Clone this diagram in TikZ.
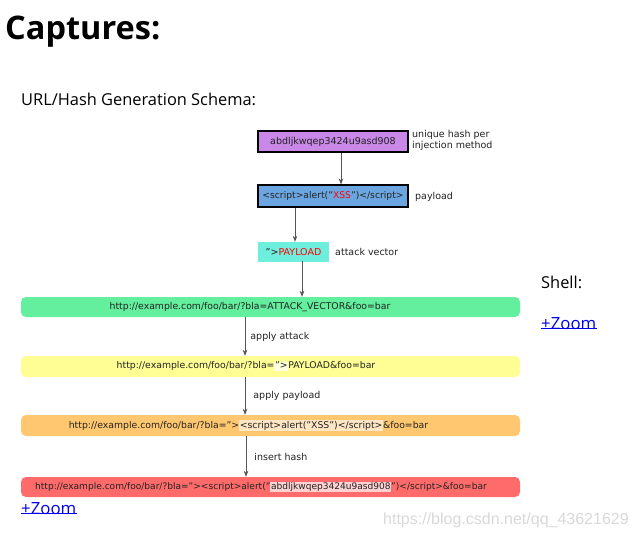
\documentclass[tikz,border=0pt]{standalone}
\usepackage{fontspec}
\setmainfont{DejaVu Sans}
\newfontfamily\uifont{Open Sans}
\newfontfamily\wmfont{Liberation Sans}
\usetikzlibrary{arrows.meta}
\definecolor{hashc}{HTML}{C987E8}
\definecolor{scriptc}{HTML}{6CA6E0}
\definecolor{vecc}{HTML}{6EEEDD}
\definecolor{greenc}{HTML}{63EF9E}
\definecolor{yellowc}{HTML}{FEFE95}
\definecolor{orangec}{HTML}{FFC76F}
\definecolor{redc}{HTML}{FF6B6B}
\definecolor{hly}{HTML}{FFFFDD}
\definecolor{hlo}{HTML}{FFE6C4}
\definecolor{hlr}{HTML}{FFD2D2}
\definecolor{linkc}{HTML}{0000EE}
\definecolor{txtc}{HTML}{222222}
\definecolor{arrc}{HTML}{555555}
\newcommand{\hlbox}[2]{{\setlength{\fboxsep}{0.6pt}\colorbox{#1}{\vphantom{Ag}#2}}}
\tikzset{
  boxed/.style={draw=black, line width=1.2pt, minimum width=150pt, inner sep=0pt, font=\fontsize{9.5}{10}\selectfont, text=txtc},
  bar/.style={rounded corners=5pt, minimum width=499pt, inner sep=0pt},
  bartext/.style={font=\fontsize{9.3}{10}\selectfont, text=txtc, inner sep=0pt},
  note/.style={font=\fontsize{9.5}{11}\selectfont, text=txtc, anchor=west, inner sep=0pt, align=left},
  arr/.style={draw=arrc, line width=0.8pt, -{Stealth[length=6pt,width=4.5pt,fill=black]}},
  ui/.style={font=\uifont\fontsize{16.4}{18}\selectfont, anchor=west, inner sep=0pt},
  link/.style={font=\uifont\fontsize{16.8}{18}\selectfont, text=linkc, anchor=west, inner sep=0pt}
}
\begin{document}
\begin{tikzpicture}[x=1pt,y=-1pt]
\useasboundingbox[fill=white] (0,0) rectangle (636,538);
% headings
\node[anchor=west, inner sep=0pt, font=\uifont\bfseries\fontsize{32.5}{36}\selectfont] (title) at (5,32) {Captures:};
\node[ui] (schema) at (21,99) {URL/Hash Generation Schema:};
\node[ui] (shell) at (541,282) {Shell:};
\node[link] (zoom1) at (541,324) {+Zoom};
\draw[linkc, line width=0.9pt] ([yshift=2pt]zoom1.south west) -- ([yshift=2pt]zoom1.south east);
\node[link] (zoom2) at (21,509) {+Zoom};
\draw[linkc, line width=0.9pt] ([yshift=2pt]zoom2.south west) -- ([yshift=2pt]zoom2.south east);
\node[anchor=west, inner sep=0pt, font=\wmfont\fontsize{16}{18}\selectfont, text=black!15] (wm) at (383,520) {https://blog.csdn.net/qq\_43621629};
% top boxes
\node[boxed, fill=hashc, minimum height=21pt] (hash) at (333,141.5) {abdljkwqep3424u9asd908};
\node[note] (hashlbl) at (412,140.5) {unique hash per\\injection method};
\node[boxed, fill=scriptc, minimum height=22pt, font=\fontsize{9.2}{10}\selectfont] (script) at (333,196) {<script>alert("\textcolor{red}{XSS}")</script>};
\node[note] (scriptlbl) at (415,196.5) {payload};
\node[fill=vecc, minimum width=71pt, minimum height=20pt, inner sep=0pt, font=\fontsize{9.5}{10}\selectfont, text=txtc] (vec) at (293.5,252) {">\textcolor{red}{PAYLOAD}};
\node[note] (veclbl) at (335,251.5) {attack vector};
% bars
\node[bar, fill=greenc, minimum height=20pt] (green) at (270.5,307) {};
\node[bartext] (gtxt) at (250,307) {http://example.com/foo/bar/?bla=ATTACK\_VECTOR\&foo=bar};
\node[bar, fill=yellowc, minimum height=21pt] (yellow) at (270.5,366.5) {};
\node[bartext] (ytxt) at (246,366.5) {http://example.com/foo/bar/?bla=\hlbox{hly}{">}PAYLOAD\&foo=bar};
\node[bar, fill=orangec, minimum height=21pt] (orange) at (270.5,425.5) {};
\node[bartext] (otxt) at (248.5,425.5) {http://example.com/foo/bar/?bla=">\hlbox{hlo}{<script>alert("XSS")</script>}\&foo=bar};
\node[bar, fill=redc, minimum height=20pt] (red) at (270.5,487) {};
\node[bartext, font=\fontsize{9.05}{10}\selectfont] (rtxt) at (261,487) {http://example.com/foo/bar/?bla="><script>alert("\hlbox{hlr}{abdljkwqep3424u9asd908}")</script>\&foo=bar};
% connectors
\draw[arr] ([xshift=8pt]hash.south) -- ([xshift=8pt]script.north);
\draw[arr] ([xshift=-38pt]script.south) -- ([xshift=1.5pt]vec.north);
\draw[arr] ([xshift=8.5pt,yshift=1pt]vec.south) -- ([xshift=31.5pt]green.north);
\draw[arr] ([xshift=-25.5pt]green.south) -- node[note, right=5pt] (l1) {apply attack} ([xshift=-25.5pt]yellow.north);
\draw[arr] ([xshift=-25.5pt]yellow.south) -- node[note, right=8pt] (l2) {apply payload} ([xshift=-25.5pt]orange.north);
\draw[arr] ([xshift=-24.5pt]orange.south) -- node[note, right=8pt] (l3) {insert hash} ([xshift=-24.5pt]red.north);
\end{tikzpicture}
\end{document}
